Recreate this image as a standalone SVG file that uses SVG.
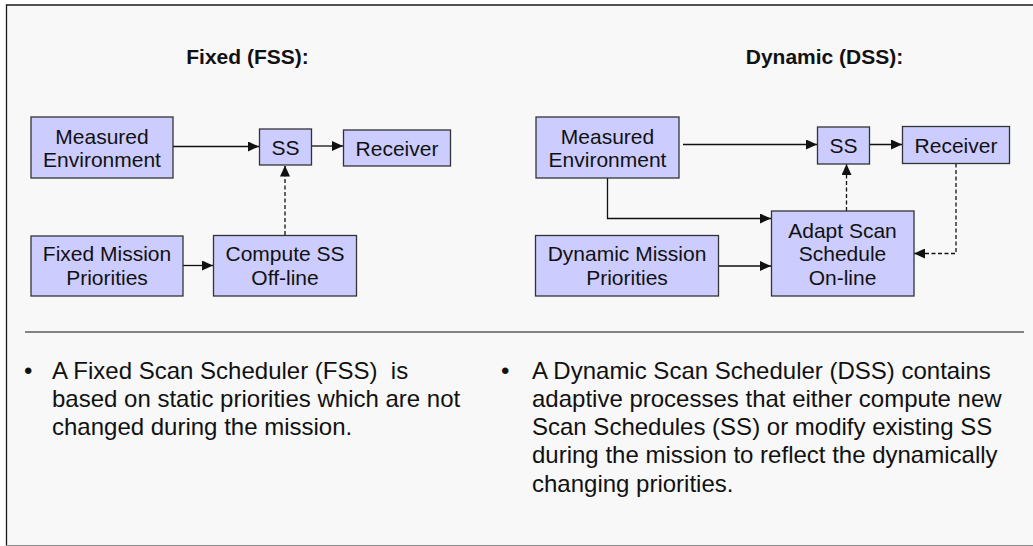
<svg xmlns="http://www.w3.org/2000/svg" width="1033" height="546" viewBox="0 0 1033 546">
  <style>
    .frame { fill: #f8f8f8; }
    .edge { stroke: #1a1a1a; stroke-width: 1.3; fill: none; }
    .box { fill: #ccccff; stroke: #333333; stroke-width: 1.3; }
    .lbl { font-family: "Liberation Sans", Arial, sans-serif; font-size: 21px; fill: #111111; text-anchor: middle; }
    .title { font-family: "Liberation Sans", Arial, sans-serif; font-size: 21px; font-weight: bold; fill: #111111; text-anchor: middle; }
    .body { font-family: "Liberation Sans", Arial, sans-serif; font-size: 24px; fill: #111111; white-space: pre; }
    .link { stroke: #111111; stroke-width: 1.3; fill: none; }
    .dash { stroke-dasharray: 4 2.5; }
  </style>
  <defs>
    <marker id="arrow" viewBox="0 0 11 10" refX="11" refY="5" markerWidth="11" markerHeight="10" markerUnits="userSpaceOnUse" orient="auto">
      <path d="M0,0 L11,5 L0,10 z" fill="#111111"/>
    </marker>
  </defs>

  <!-- page frame -->
  <rect x="0" y="0" width="1033" height="546" fill="#ffffff"/>
  <rect class="frame" x="6.5" y="5" width="1027" height="540"/>
  <path class="edge" d="M6.5,546 V5 H1033"/>
  <line x1="6" y1="545.5" x2="1033" y2="545.5" stroke="#8a8a8a" stroke-width="1.2"/>

  <!-- section titles -->
  <text class="title" x="247.5" y="64">Fixed (FSS):</text>
  <text class="title" x="824.5" y="64">Dynamic (DSS):</text>

  <!-- connectors -->
  <g id="connectors">
    <!-- fixed scheduler -->
    <line class="link" x1="173" y1="146.5" x2="259" y2="146.5" marker-end="url(#arrow)"/>
    <line class="link" x1="311" y1="146" x2="343" y2="146" marker-end="url(#arrow)"/>
    <line class="link" x1="183" y1="265.5" x2="213" y2="265.5" marker-end="url(#arrow)"/>
    <line class="link dash" x1="285" y1="235" x2="285" y2="165.5" marker-end="url(#arrow)"/>
    <!-- dynamic scheduler -->
    <line class="link" x1="683" y1="144.5" x2="817" y2="144.5" marker-end="url(#arrow)"/>
    <line class="link" x1="869" y1="144.5" x2="902" y2="144.5" marker-end="url(#arrow)"/>
    <path class="link" d="M607.5,178 V218.5 H771" marker-end="url(#arrow)"/>
    <line class="link" x1="716" y1="266" x2="771" y2="266" marker-end="url(#arrow)"/>
    <line class="link dash" x1="846.5" y1="211" x2="846.5" y2="164" marker-end="url(#arrow)"/>
    <path class="link dash" d="M956,163.5 V253.5 H914" marker-end="url(#arrow)"/>
  </g>

  <!-- fixed scheduler nodes -->
  <g id="fss-measured-env">
    <rect class="box" x="31" y="117" width="142" height="61"/>
    <text class="lbl" x="102" y="143.5">Measured</text>
    <text class="lbl" x="102" y="167">Environment</text>
  </g>
  <g id="fss-ss">
    <rect class="box" x="259.5" y="129" width="52" height="36"/>
    <text class="lbl" x="285.5" y="155">SS</text>
  </g>
  <g id="fss-receiver">
    <rect class="box" x="343.5" y="130" width="107" height="36"/>
    <text class="lbl" x="397" y="155.5">Receiver</text>
  </g>
  <g id="fss-mission-priorities">
    <rect class="box" x="31" y="236" width="152" height="60"/>
    <text class="lbl" x="107" y="261">Fixed Mission</text>
    <text class="lbl" x="107" y="285">Priorities</text>
  </g>
  <g id="fss-compute">
    <rect class="box" x="213.5" y="235.5" width="143" height="60.5"/>
    <text class="lbl" x="285" y="261">Compute SS</text>
    <text class="lbl" x="285" y="285">Off-line</text>
  </g>

  <!-- dynamic scheduler nodes -->
  <g id="dss-measured-env">
    <rect class="box" x="536" y="117" width="143" height="61"/>
    <text class="lbl" x="607.5" y="143.5">Measured</text>
    <text class="lbl" x="607.5" y="167">Environment</text>
  </g>
  <g id="dss-ss">
    <rect class="box" x="817.5" y="127" width="52" height="37"/>
    <text class="lbl" x="843.5" y="153">SS</text>
  </g>
  <g id="dss-receiver">
    <rect class="box" x="902.5" y="126.5" width="107" height="37"/>
    <text class="lbl" x="956" y="152.5">Receiver</text>
  </g>
  <g id="dss-mission-priorities">
    <rect class="box" x="535.5" y="235.5" width="183" height="60.5"/>
    <text class="lbl" x="627" y="261">Dynamic Mission</text>
    <text class="lbl" x="627" y="285">Priorities</text>
  </g>
  <g id="dss-adapt">
    <rect class="box" x="771.5" y="211" width="142.5" height="85"/>
    <text class="lbl" x="842.5" y="237.5">Adapt Scan</text>
    <text class="lbl" x="842.5" y="261">Schedule</text>
    <text class="lbl" x="842.5" y="285">On-line</text>
  </g>

  <!-- divider -->
  <line x1="25" y1="332" x2="1024" y2="332" stroke="#111111" stroke-width="1.2"/>

  <!-- descriptions -->
  <g class="body">
    <text x="24" y="378.5">•</text>
    <text x="52" y="378.5">A Fixed Scan Scheduler (FSS) &#160;is</text>
    <text x="52" y="406.8">based on static priorities which are not</text>
    <text x="52" y="435.1">changed during the mission.</text>
    <text x="501" y="378.5">•</text>
    <text x="532" y="378.5">A Dynamic Scan Scheduler (DSS) contains</text>
    <text x="532" y="406.8">adaptive processes that either compute new</text>
    <text x="532" y="435.1">Scan Schedules (SS) or modify existing SS</text>
    <text x="532" y="463.4">during the mission to reflect the dynamically</text>
    <text x="532" y="491.7">changing priorities.</text>
  </g>
</svg>
